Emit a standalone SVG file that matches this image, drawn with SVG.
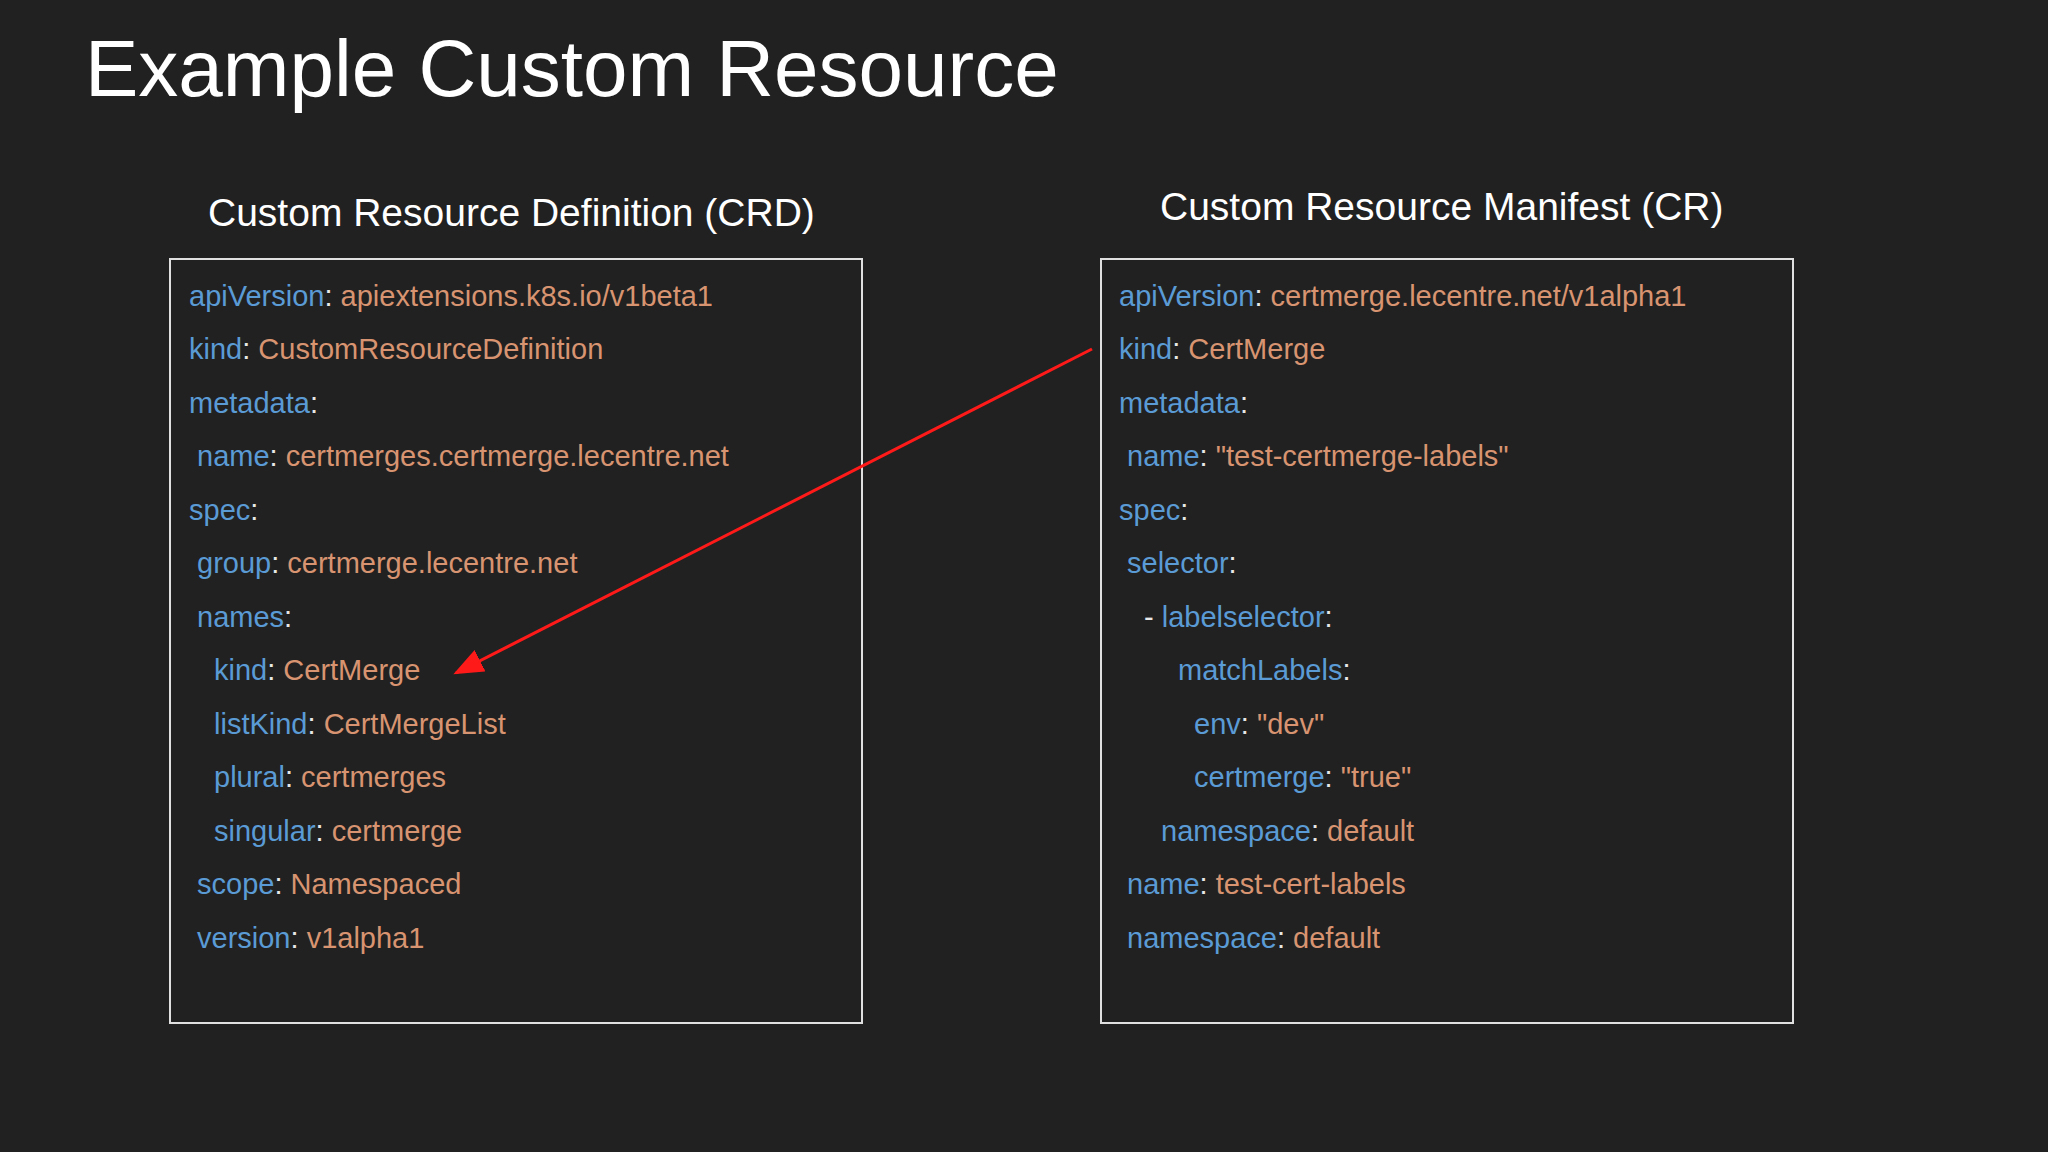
<svg xmlns="http://www.w3.org/2000/svg" width="2048" height="1152" viewBox="0 0 2048 1152">
<style>
text{font-family:"Liberation Sans",Arial,sans-serif}
.t{fill:#fff}
.c{font-size:29px;fill:#e8e8e8}
.k{fill:#5b9bd5}
.v{fill:#d89470}
.box{fill:none;stroke:#e0e0e0;stroke-width:2}
</style>
<defs><marker id="ah" markerWidth="10" markerHeight="8" refX="9" refY="4" orient="auto" markerUnits="strokeWidth"><path d="M0,0L10,4L0,8z" fill="#ff1a1a"/></marker></defs>
<rect width="2048" height="1152" fill="#212121"/>
<text class="t" x="85" y="96" font-size="80">Example Custom Resource</text>
<g id="crd">
<text class="t" x="208" y="226" font-size="39">Custom Resource Definition (CRD)</text>
<rect class="box" x="170" y="259" width="692" height="764"/>
<g class="c">
<text x="189" y="306"><tspan class="k">apiVersion</tspan>: <tspan class="v">apiextensions.k8s.io/v1beta1</tspan></text>
<text x="189" y="359"><tspan class="k">kind</tspan>: <tspan class="v">CustomResourceDefinition</tspan></text>
<text x="189" y="413"><tspan class="k">metadata</tspan>:</text>
<text x="197" y="466"><tspan class="k">name</tspan>: <tspan class="v">certmerges.certmerge.lecentre.net</tspan></text>
<text x="189" y="520"><tspan class="k">spec</tspan>:</text>
<text x="197" y="573"><tspan class="k">group</tspan>: <tspan class="v">certmerge.lecentre.net</tspan></text>
<text x="197" y="627"><tspan class="k">names</tspan>:</text>
<text x="214" y="680"><tspan class="k">kind</tspan>: <tspan class="v">CertMerge</tspan></text>
<text x="214" y="734"><tspan class="k">listKind</tspan>: <tspan class="v">CertMergeList</tspan></text>
<text x="214" y="787"><tspan class="k">plural</tspan>: <tspan class="v">certmerges</tspan></text>
<text x="214" y="841"><tspan class="k">singular</tspan>: <tspan class="v">certmerge</tspan></text>
<text x="197" y="894"><tspan class="k">scope</tspan>: <tspan class="v">Namespaced</tspan></text>
<text x="197" y="948"><tspan class="k">version</tspan>: <tspan class="v">v1alpha1</tspan></text>
</g>
</g>
<g id="cr">
<text class="t" x="1160" y="220" font-size="39">Custom Resource Manifest (CR)</text>
<rect class="box" x="1101" y="259" width="692" height="764"/>
<g class="c">
<text x="1119" y="306"><tspan class="k">apiVersion</tspan>: <tspan class="v">certmerge.lecentre.net/v1alpha1</tspan></text>
<text x="1119" y="359"><tspan class="k">kind</tspan>: <tspan class="v">CertMerge</tspan></text>
<text x="1119" y="413"><tspan class="k">metadata</tspan>:</text>
<text x="1127" y="466"><tspan class="k">name</tspan>: <tspan class="v">"test-certmerge-labels"</tspan></text>
<text x="1119" y="520"><tspan class="k">spec</tspan>:</text>
<text x="1127" y="573"><tspan class="k">selector</tspan>:</text>
<text x="1144" y="627">- <tspan class="k">labelselector</tspan>:</text>
<text x="1178" y="680"><tspan class="k">matchLabels</tspan>:</text>
<text x="1194" y="734"><tspan class="k">env</tspan>: <tspan class="v">"dev"</tspan></text>
<text x="1194" y="787"><tspan class="k">certmerge</tspan>: <tspan class="v">"true"</tspan></text>
<text x="1161" y="841"><tspan class="k">namespace</tspan>: <tspan class="v">default</tspan></text>
<text x="1127" y="894"><tspan class="k">name</tspan>: <tspan class="v">test-cert-labels</tspan></text>
<text x="1127" y="948"><tspan class="k">namespace</tspan>: <tspan class="v">default</tspan></text>
</g>
</g>
<g id="connectors">
<line x1="1092" y1="349" x2="456" y2="673" stroke="#ff1a1a" stroke-width="3" marker-end="url(#ah)"/>
</g>
</svg>
